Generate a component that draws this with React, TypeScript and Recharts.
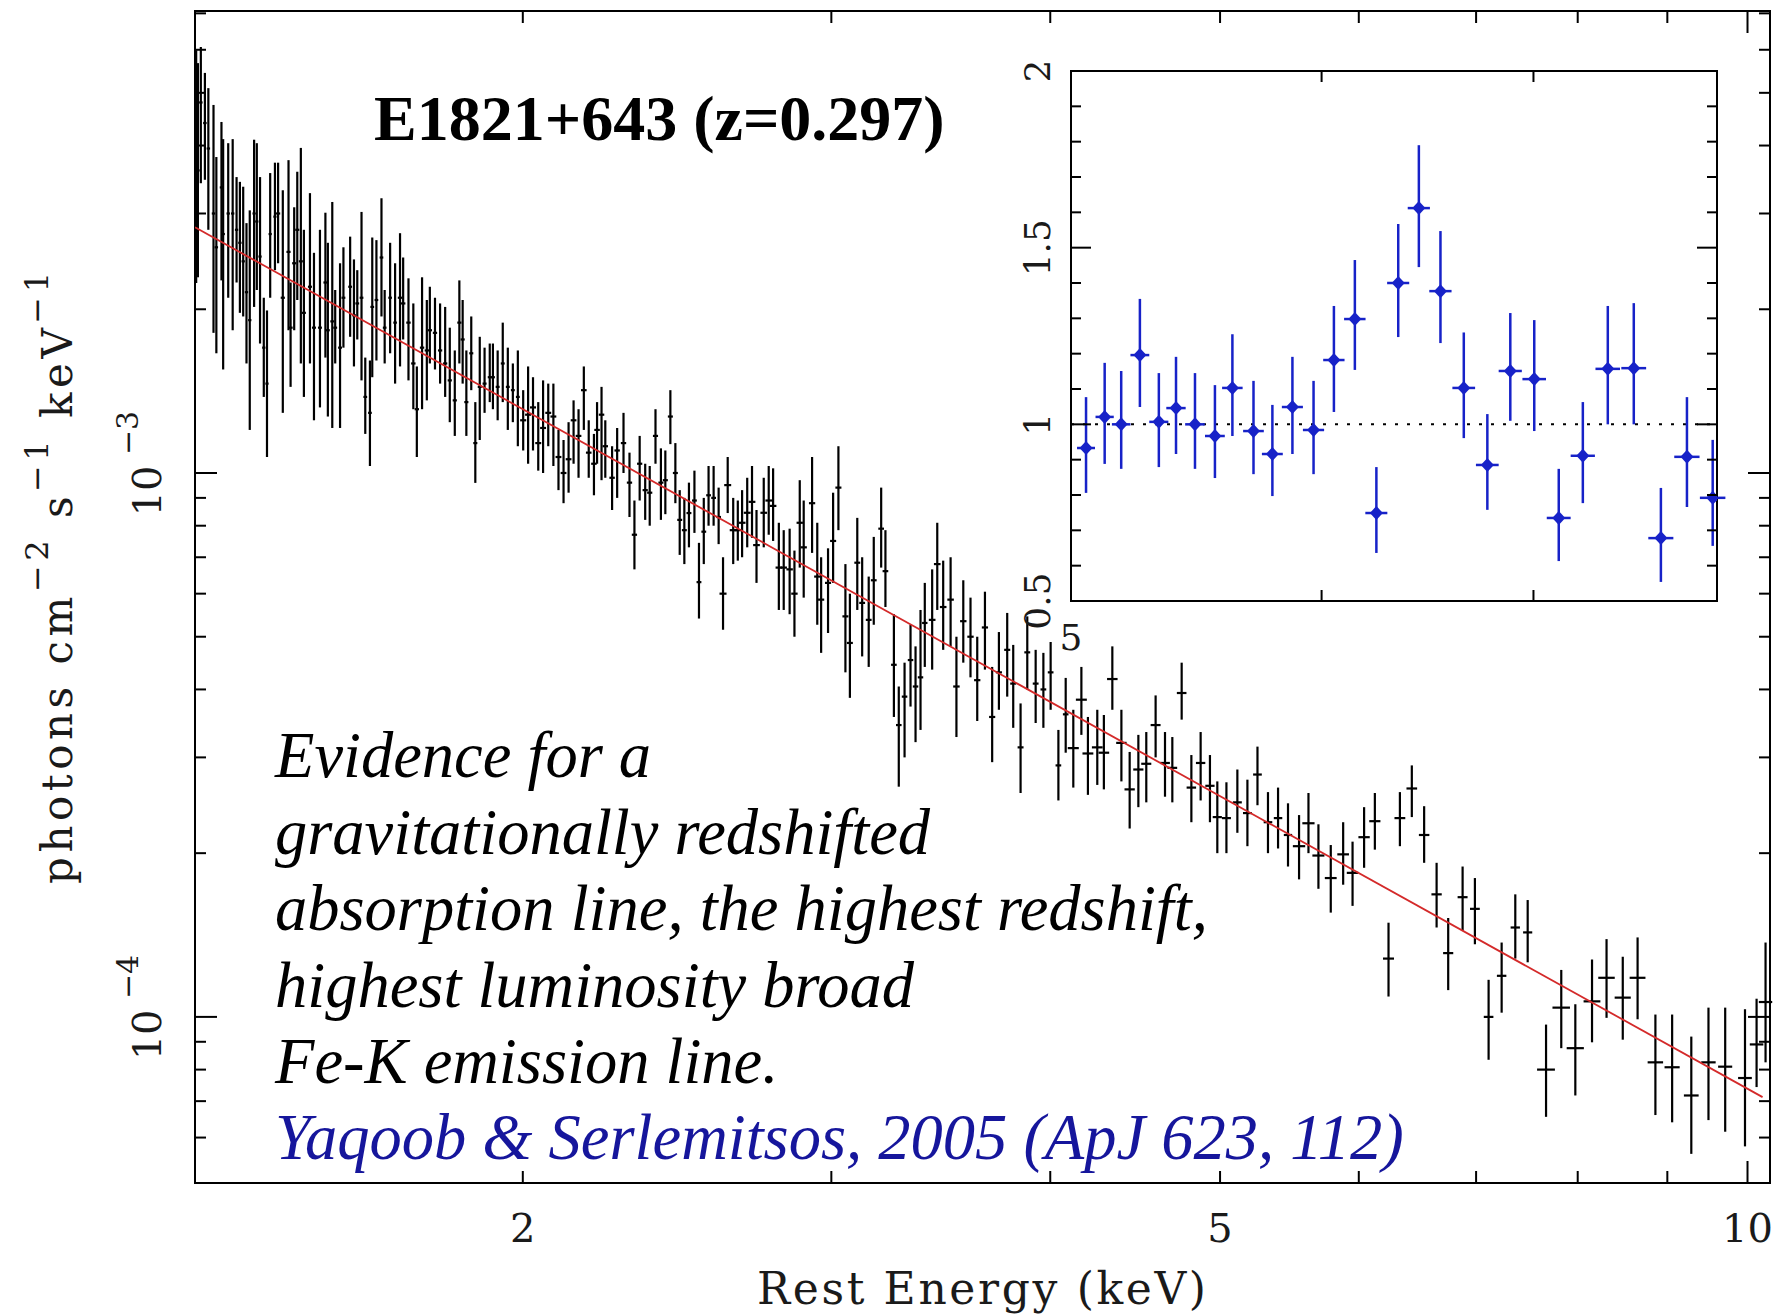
import React from 'react';
import {
  ComposedChart,
  Scatter,
  Line,
  XAxis,
  YAxis,
  ErrorBar,
  ReferenceArea,
  ReferenceLine,
} from 'recharts';

// ---------- DATA ----------
// Main spectrum rows: [rest energy (keV), flux, flux lower bound, flux upper bound]  (photons cm^-2 s^-1 keV^-1)
type Row = [number, number, number, number];

const segA_halfWidth = 0.003;
const segA: Row[] = [
  [1.302, 4.0e-3, 2.235e-3, 5.99e-3], [1.305, 3.6e-3, 2.29e-3, 5.67e-3], [1.31, 4.8e-3, 3.41e-3, 6.07e-3],
  [1.317, 4.4e-3, 3.46e-3, 5.44e-3], [1.323, 3.95e-3, 2.8e-3, 5.1e-3], [1.332, 3.0e-3, 1.81e-3, 4.75e-3],
  [1.337, 2.6e-3, 1.66e-3, 3.81e-3], [1.346, 3.35e-3, 2.26e-3, 4.42e-3], [1.349, 2.75e-3, 1.55e-3, 4.11e-3],
  [1.358, 3.0e-3, 2.1e-3, 4.04e-3], [1.366, 3.0e-3, 1.83e-3, 4.11e-3], [1.373, 2.8e-3, 2.24e-3, 3.5e-3],
  [1.379, 2.65e-3, 1.97e-3, 3.43e-3], [1.385, 2.45e-3, 1.94e-3, 3.36e-3], [1.391, 2.15e-3, 1.59e-3, 2.88e-3],
  [1.397, 1.91e-3, 1.2e-3, 3.04e-3], [1.405, 3.0e-3, 2.02e-3, 4.1e-3], [1.41, 2.9e-3, 2.17e-3, 4.04e-3],
  [1.416, 2.5e-3, 1.73e-3, 3.5e-3], [1.423, 1.7e-3, 1.38e-3, 2.1e-3], [1.429, 1.46e-3, 1.07e-3, 1.99e-3],
  [1.435, 2.75e-3, 2.1e-3, 3.56e-3], [1.444, 2.96e-3, 2.36e-3, 3.72e-3],
];

const segB_halfWidth = 0.004;
const segB: Row[] = [
  [1.45, 3.0e-3, 2.43e-3, 3.72e-3], [1.459, 2.1e-3, 1.29e-3, 3.31e-3], [1.47, 2.55e-3, 1.83e-3, 3.76e-3],
  [1.474, 1.85e-3, 1.44e-3, 2.24e-3], [1.481, 2.43e-3, 1.83e-3, 3.08e-3], [1.487, 2.8e-3, 2.08e-3, 3.58e-3],
  [1.494, 2.45e-3, 1.59e-3, 3.96e-3], [1.5, 1.97e-3, 1.38e-3, 2.8e-3], [1.512, 2.2e-3, 1.59e-3, 3.27e-3],
  [1.52, 1.85e-3, 1.25e-3, 2.54e-3], [1.532, 1.85e-3, 1.32e-3, 2.8e-3], [1.543, 2.24e-3, 1.63e-3, 3.01e-3],
  [1.548, 1.83e-3, 1.27e-3, 2.65e-3], [1.557, 1.9e-3, 1.21e-3, 3.15e-3], [1.563, 1.85e-3, 1.59e-3, 2.17e-3],
  [1.573, 1.7e-3, 1.21e-3, 2.43e-3], [1.58, 2.1e-3, 1.7e-3, 2.6e-3], [1.594, 2.2e-3, 1.78e-3, 2.72e-3],
  [1.602, 1.95e-3, 1.57e-3, 2.47e-3], [1.609, 2.05e-3, 1.76e-3, 2.36e-3], [1.618, 2.1e-3, 1.48e-3, 3.02e-3],
  [1.626, 1.38e-3, 1.18e-3, 1.63e-3], [1.636, 1.29e-3, 1.03e-3, 1.61e-3], [1.641, 2.02e-3, 1.5e-3, 2.71e-3],
  [1.65, 2.08e-3, 1.61e-3, 2.68e-3], [1.661, 2.49e-3, 1.94e-3, 3.2e-3], [1.668, 1.85e-3, 1.59e-3, 2.17e-3],
  [1.68, 2.1e-3, 1.66e-3, 2.65e-3], [1.691, 1.89e-3, 1.46e-3, 2.43e-3],
];

const segC_halfWidth = 0.005;
const segC: Row[] = [
  [1.702, 2.1e-3, 1.57e-3, 2.76e-3], [1.709, 2.05e-3, 1.76e-3, 2.49e-3], [1.721, 1.89e-3, 1.48e-3, 2.28e-3],
  [1.732, 1.59e-3, 1.31e-3, 2.05e-3], [1.74, 1.31e-3, 1.07e-3, 1.57e-3], [1.752, 1.7e-3, 1.31e-3, 2.29e-3],
  [1.763, 1.68e-3, 1.36e-3, 2.08e-3], [1.77, 1.83e-3, 1.59e-3, 2.2e-3], [1.782, 1.81e-3, 1.55e-3, 2.1e-3],
  [1.794, 1.68e-3, 1.46e-3, 2.05e-3], [1.806, 1.59e-3, 1.38e-3, 2.02e-3], [1.817, 1.48e-3, 1.24e-3, 1.85e-3],
  [1.829, 1.36e-3, 1.17e-3, 1.68e-3], [1.84, 1.89e-3, 1.59e-3, 2.26e-3], [1.848, 1.76e-3, 1.46e-3, 2.08e-3],
  [1.857, 1.35e-3, 1.17e-3, 1.68e-3], [1.869, 1.66e-3, 1.42e-3, 1.94e-3], [1.879, 1.135e-3, 0.959e-3, 1.35e-3],
  [1.89, 1.44e-3, 1.15e-3, 1.78e-3], [1.902, 1.46e-3, 1.29e-3, 1.7e-3], [1.915, 1.5e-3, 1.35e-3, 1.73e-3],
  [1.923, 1.5e-3, 1.31e-3, 1.73e-3], [1.935, 1.44e-3, 1.25e-3, 1.68e-3], [1.948, 1.59e-3, 1.35e-3, 1.89e-3],
  [1.961, 1.44e-3, 1.2e-3, 1.7e-3], [1.974, 1.42e-3, 1.24e-3, 1.59e-3], [1.987, 1.38e-3, 1.12e-3, 1.68e-3],
];

const segD_halfWidth = 0.008;
const segD: Row[] = [
  [2.001, 1.25e-3, 1.1e-3, 1.42e-3], [2.014, 1.28e-3, 1.04e-3, 1.57e-3], [2.027, 1.32e-3, 1.1e-3, 1.5e-3],
  [2.041, 1.135e-3, 1.01e-3, 1.35e-3], [2.054, 1.21e-3, 1.0e-3, 1.48e-3], [2.068, 1.29e-3, 1.12e-3, 1.46e-3],
  [2.082, 1.27e-3, 1.03e-3, 1.46e-3], [2.096, 1.07e-3, 0.93e-3, 1.2e-3], [2.11, 1.0e-3, 0.88e-3, 1.15e-3],
  [2.124, 1.06e-3, 0.92e-3, 1.24e-3], [2.138, 1.25e-3, 1.04e-3, 1.36e-3], [2.152, 1.17e-3, 0.98e-3, 1.31e-3],
  [2.167, 1.42e-3, 1.2e-3, 1.57e-3], [2.181, 1.09e-3, 0.98e-3, 1.25e-3], [2.196, 1.04e-3, 0.91e-3, 1.18e-3],
  [2.205, 1.2e-3, 1.04e-3, 1.35e-3], [2.218, 1.28e-3, 0.97e-3, 1.44e-3], [2.229, 1.12e-3, 0.98e-3, 1.25e-3],
  [2.249, 0.98e-3, 0.855e-3, 1.12e-3], [2.264, 1.1e-3, 0.9e-3, 1.21e-3], [2.283, 1.135e-3, 1.0e-3, 1.29e-3],
  [2.301, 0.96e-3, 0.83e-3, 1.09e-3], [2.316, 0.77e-3, 0.665e-3, 0.89e-3], [2.332, 1.04e-3, 0.89e-3, 1.17e-3],
  [2.349, 0.93e-3, 0.82e-3, 1.04e-3], [2.363, 0.92e-3, 0.8e-3, 1.03e-3], [2.381, 1.17e-3, 1.04e-3, 1.31e-3],
  [2.398, 0.96e-3, 0.82e-3, 1.11e-3], [2.412, 0.97e-3, 0.84e-3, 1.1e-3], [2.428, 1.27e-3, 1.13e-3, 1.42e-3],
  [2.444, 1.0e-3, 0.88e-3, 1.135e-3], [2.458, 0.82e-3, 0.707e-3, 0.93e-3], [2.473, 0.785e-3, 0.68e-3, 0.9e-3],
  [2.488, 0.844e-3, 0.73e-3, 0.96e-3], [2.506, 0.89e-3, 0.776e-3, 1.01e-3], [2.521, 0.63e-3, 0.54e-3, 0.744e-3],
  [2.537, 0.78e-3, 0.68e-3, 0.9e-3], [2.553, 0.91e-3, 0.8e-3, 1.03e-3], [2.57, 0.9e-3, 0.8e-3, 1.03e-3],
  [2.587, 0.83e-3, 0.74e-3, 0.94e-3],
];

const segE_halfWidth = 0.012;
const segE: Row[] = [
  [2.602, 0.6e-3, 0.515e-3, 0.7e-3], [2.618, 0.95e-3, 0.844e-3, 1.07e-3], [2.637, 0.785e-3, 0.68e-3, 0.9e-3],
  [2.653, 0.785e-3, 0.69e-3, 0.89e-3], [2.668, 0.81e-3, 0.7e-3, 0.93e-3], [2.686, 0.845e-3, 0.73e-3, 0.98e-3],
  [2.703, 0.885e-3, 0.76e-3, 1.03e-3], [2.719, 0.737e-3, 0.628e-3, 0.855e-3], [2.745, 0.845e-3, 0.73e-3, 0.98e-3],
  [2.763, 0.89e-3, 0.77e-3, 1.03e-3], [2.779, 0.87e-3, 0.75e-3, 1.02e-3], [2.8, 0.67e-3, 0.56e-3, 0.81e-3],
  [2.818, 0.67e-3, 0.56e-3, 0.785e-3], [2.84, 0.665e-3, 0.55e-3, 0.79e-3], [2.858, 0.6e-3, 0.5e-3, 0.72e-3],
  [2.878, 0.81e-3, 0.67e-3, 0.97e-3], [2.893, 0.73e-3, 0.59e-3, 0.89e-3], [2.925, 0.88e-3, 0.713e-3, 1.07e-3],
  [2.945, 0.645e-3, 0.526e-3, 0.81e-3], [2.96, 0.585e-3, 0.467e-3, 0.7e-3], [2.987, 0.628e-3, 0.508e-3, 0.727e-3],
  [3.007, 0.75e-3, 0.628e-3, 0.92e-3], [3.028, 0.94e-3, 0.785e-3, 1.12e-3], [3.056, 0.545e-3, 0.43e-3, 0.68e-3],
  [3.074, 0.487e-3, 0.386e-3, 0.6e-3], [3.104, 0.684e-3, 0.56e-3, 0.827e-3], [3.124, 0.577e-3, 0.46e-3, 0.7e-3],
  [3.151, 0.537e-3, 0.44e-3, 0.645e-3], [3.172, 0.635e-3, 0.526e-3, 0.763e-3], [3.203, 0.79e-3, 0.67e-3, 0.94e-3],
  [3.221, 0.66e-3, 0.567e-3, 0.785e-3], [3.257, 0.444e-3, 0.356e-3, 0.55e-3], [3.278, 0.344e-3, 0.265e-3, 0.405e-3],
  [3.303, 0.388e-3, 0.3e-3, 0.448e-3], [3.329, 0.453e-3, 0.372e-3, 0.526e-3], [3.351, 0.405e-3, 0.32e-3, 0.48e-3],
  [3.373, 0.421e-3, 0.337e-3, 0.56e-3], [3.392, 0.53e-3, 0.44e-3, 0.628e-3],
];

const segF_halfWidth = 0.015;
const segF: Row[] = [
  [3.425, 0.537e-3, 0.435e-3, 0.665e-3], [3.448, 0.68e-3, 0.56e-3, 0.81e-3], [3.475, 0.567e-3, 0.473e-3, 0.69e-3],
  [3.509, 0.585e-3, 0.48e-3, 0.7e-3], [3.536, 0.405e-3, 0.327e-3, 0.5e-3], [3.568, 0.534e-3, 0.448e-3, 0.635e-3],
  [3.602, 0.5e-3, 0.421e-3, 0.59e-3], [3.634, 0.416e-3, 0.35e-3, 0.5e-3], [3.671, 0.52e-3, 0.435e-3, 0.605e-3],
  [3.706, 0.356e-3, 0.294e-3, 0.44e-3], [3.739, 0.43e-3, 0.367e-3, 0.51e-3], [3.78, 0.473e-3, 0.388e-3, 0.553e-3],
  [3.81, 0.41e-3, 0.34e-3, 0.483e-3], [3.847, 0.313e-3, 0.258e-3, 0.377e-3], [3.881, 0.468e-3, 0.4e-3, 0.545e-3],
  [3.924, 0.41e-3, 0.347e-3, 0.473e-3], [3.964, 0.4e-3, 0.34e-3, 0.467e-3], [4.002, 0.43e-3, 0.367e-3, 0.489e-3],
  [4.043, 0.29e-3, 0.25e-3, 0.337e-3], [4.082, 0.36e-3, 0.306e-3, 0.42e-3],
];

const segG_halfWidth = 0.03;
const segG: Row[] = [
  [4.123, 0.312e-3, 0.264e-3, 0.367e-3], [4.167, 0.383e-3, 0.33e-3, 0.44e-3], [4.203, 0.305e-3, 0.256e-3, 0.356e-3],
  [4.255, 0.313e-3, 0.267e-3, 0.367e-3], [4.292, 0.306e-3, 0.262e-3, 0.359e-3], [4.34, 0.418e-3, 0.367e-3, 0.48e-3],
  [4.392, 0.319e-3, 0.271e-3, 0.367e-3], [4.44, 0.262e-3, 0.222e-3, 0.307e-3], [4.491, 0.285e-3, 0.243e-3, 0.33e-3],
  [4.538, 0.292e-3, 0.248e-3, 0.334e-3], [4.594, 0.344e-3, 0.3e-3, 0.39e-3], [4.651, 0.293e-3, 0.254e-3, 0.334e-3],
  [4.696, 0.287e-3, 0.248e-3, 0.327e-3], [4.754, 0.394e-3, 0.352e-3, 0.448e-3], [4.815, 0.264e-3, 0.228e-3, 0.303e-3],
  [4.874, 0.293e-3, 0.25e-3, 0.334e-3], [4.934, 0.266e-3, 0.228e-3, 0.303e-3], [4.982, 0.233e-3, 0.2e-3, 0.271e-3],
  [5.042, 0.232e-3, 0.2e-3, 0.27e-3], [5.115, 0.248e-3, 0.218e-3, 0.285e-3], [5.183, 0.237e-3, 0.206e-3, 0.273e-3],
  [5.252, 0.279e-3, 0.245e-3, 0.314e-3], [5.325, 0.228e-3, 0.2e-3, 0.259e-3], [5.396, 0.232e-3, 0.204e-3, 0.264e-3],
  [5.467, 0.216e-3, 0.189e-3, 0.247e-3],
];

const segH_halfWidth = 0.045;
const segH: Row[] = [
  [5.547, 0.206e-3, 0.179e-3, 0.235e-3], [5.616, 0.227e-3, 0.2e-3, 0.258e-3], [5.69, 0.198e-3, 0.172e-3, 0.226e-3],
  [5.783, 0.18e-3, 0.1555e-3, 0.207e-3], [5.878, 0.199e-3, 0.175e-3, 0.228e-3], [5.951, 0.184e-3, 0.16e-3, 0.21e-3],
  [6.042, 0.214e-3, 0.188e-3, 0.243e-3], [6.128, 0.229e-3, 0.203e-3, 0.258e-3], [6.239, 0.128e-3, 0.109e-3, 0.149e-3],
  [6.333, 0.232e-3, 0.206e-3, 0.259e-3], [6.433, 0.263e-3, 0.233e-3, 0.29e-3], [6.538, 0.216e-3, 0.192e-3, 0.244e-3],
  [6.646, 0.168e-3, 0.146e-3, 0.192e-3], [6.748, 0.131e-3, 0.112e-3, 0.152e-3], [6.877, 0.166e-3, 0.144e-3, 0.189e-3],
  [6.989, 0.158e-3, 0.136e-3, 0.18e-3], [7.116, 0.1e-3, 0.0834e-3, 0.117e-3], [7.239, 0.119e-3, 0.1018e-3, 0.137e-3],
  [7.37, 0.146e-3, 0.128e-3, 0.168e-3], [7.491, 0.143e-3, 0.126e-3, 0.164e-3],
];

const segI_halfWidth = 0.09;
const segI: Row[] = [
  [7.674, 0.08e-3, 0.0655e-3, 0.0968e-3], [7.829, 0.104e-3, 0.0876e-3, 0.122e-3], [7.975, 0.0876e-3, 0.0717e-3, 0.1055e-3],
  [8.152, 0.1068e-3, 0.0898e-3, 0.1275e-3], [8.309, 0.118e-3, 0.0996e-3, 0.139e-3], [8.488, 0.1085e-3, 0.0908e-3, 0.129e-3],
  [8.655, 0.118e-3, 0.099e-3, 0.14e-3], [8.86, 0.0825e-3, 0.066e-3, 0.101e-3], [9.057, 0.0808e-3, 0.064e-3, 0.101e-3],
  [9.288, 0.0717e-3, 0.056e-3, 0.092e-3], [9.5, 0.0825e-3, 0.0646e-3, 0.104e-3], [9.711, 0.081e-3, 0.0615e-3, 0.104e-3],
  [9.967, 0.0772e-3, 0.0578e-3, 0.1033e-3], [10.12, 0.089e-3, 0.0743e-3, 0.108e-3], [10.24, 0.1065e-3, 0.0825e-3, 0.137e-3],
];

// Power-law continuum model (red line), two end points
const modelEnergy = [1.3, 10.2];
const modelFlux = [2.83e-3, 7.12e-5];

// Inset: data/model ratio, rows [energy keV, ratio, lower, upper, bin half-width keV]
const insetRatio: [number, number, number, number, number][] = [
  [5.055, 0.933, 0.806, 1.077, 0.033], [5.124, 1.021, 0.888, 1.174, 0.034], [5.186, 1.0, 0.874, 1.151, 0.035],
  [5.257, 1.196, 1.049, 1.355, 0.036], [5.33, 1.007, 0.879, 1.145, 0.037], [5.397, 1.046, 0.916, 1.191, 0.038],
  [5.472, 1.0, 0.874, 1.145, 0.039], [5.552, 0.967, 0.848, 1.111, 0.04], [5.623, 1.103, 0.967, 1.255, 0.042],
  [5.71, 0.981, 0.859, 1.123, 0.043], [5.789, 0.916, 0.797, 1.055, 0.044], [5.874, 1.049, 0.916, 1.191, 0.045],
  [5.965, 0.984, 0.859, 1.123, 0.046], [6.054, 1.182, 1.035, 1.335, 0.047], [6.147, 1.298, 1.154, 1.465, 0.048],
  [6.244, 0.749, 0.636, 0.879, 0.05], [6.344, 1.4, 1.247, 1.567, 0.051], [6.44, 1.612, 1.445, 1.79, 0.052],
  [6.542, 1.377, 1.23, 1.547, 0.053], [6.654, 1.103, 0.961, 1.26, 0.055], [6.769, 0.885, 0.758, 1.029, 0.056],
  [6.883, 1.151, 1.01, 1.315, 0.058], [7.004, 1.128, 0.981, 1.295, 0.06], [7.13, 0.735, 0.613, 0.874, 0.062],
  [7.256, 0.911, 0.777, 1.063, 0.064], [7.389, 1.157, 1.0, 1.335, 0.066], [7.53, 1.159, 1.0, 1.343, 0.068],
  [7.68, 0.678, 0.554, 0.82, 0.07], [7.827, 0.908, 0.766, 1.077, 0.072], [7.975, 0.792, 0.656, 0.956, 0.074],
];

// Axis ticks and labels
const mainXTicks = [2, 3, 4, 5, 6, 7, 8, 9, 10];
const mainXLabels: Record<number, string> = { 2: '2', 5: '5', 10: '10' };
const mainYTicks = [
  6e-5, 7e-5, 8e-5, 9e-5, 1e-4, 2e-4, 3e-4, 4e-4, 5e-4, 6e-4, 7e-4, 8e-4, 9e-4,
  1e-3, 2e-3, 3e-3, 4e-3, 5e-3, 6e-3, 7e-3,
];
const insetXTicks = [5, 6, 7];
const insetYTicks = [0.5, 0.6, 0.7, 0.8, 0.9, 1.0, 1.1, 1.2, 1.3, 1.4, 1.5, 1.6, 1.7, 1.8, 1.9, 2.0];
const insetYLabels: Record<string, string> = { '0.5': '0.5', '1': '1', '1.5': '1.5', '2': '2' };

const titleText = 'E1821+643 (z=0.297)';
const noteLines = [
  'Evidence for a',
  'gravitationally redshifted',
  'absorption line, the highest redshift,',
  'highest luminosity broad',
  'Fe-K emission line.',
];
const citationText = 'Yaqoob & Serlemitsos, 2005 (ApJ 623, 112)';

// ---------- LAYOUT ----------
const W = 1777;
const H = 1315;
const MAIN = { left: 195, top: 11, right: 1770, bottom: 1183 };
const INSET_BOX = { x: 1000, y: 0, w: 760, h: 700 };
const INSET = { left: 71, top: 71, right: 717, bottom: 601 }; // inside inset chart
const AXIS_FONT = '"DejaVu Serif", serif';
const TEXT_FONT = '"Liberation Serif", "Times New Roman", serif';
const BLUE = '#1722c8';

const buildRows = (seg: Row[], half: number) =>
  seg.map(([e, f, lo, hi]) => ({ e, f, ey: [f - lo, hi - f], ex: half }));

const mainRows = [
  ...buildRows(segA, segA_halfWidth),
  ...buildRows(segB, segB_halfWidth),
  ...buildRows(segC, segC_halfWidth),
  ...buildRows(segD, segD_halfWidth),
  ...buildRows(segE, segE_halfWidth),
  ...buildRows(segF, segF_halfWidth),
  ...buildRows(segG, segG_halfWidth),
  ...buildRows(segH, segH_halfWidth),
  ...buildRows(segI, segI_halfWidth),
];
const modelRows = modelEnergy.map((e, i) => ({ e, f: modelFlux[i] }));
const insetRows = insetRatio.map(([e, r, lo, hi, half]) => ({ e, r, ey: [r - lo, hi - r], ex: half }));

const isPow10 = (v: number) => Math.abs(Math.log10(v) - Math.round(Math.log10(v))) < 1e-9;

function MainXTick(props: any) {
  const { x, y, payload } = props;
  const v = payload.value as number;
  const len = v === 10 ? 22 : 12;
  const label = mainXLabels[v];
  return (
    <g>
      <line x1={x} x2={x} y1={y} y2={y - len} stroke="#000" strokeWidth={2} />
      <line x1={x} x2={x} y1={MAIN.top} y2={MAIN.top + len} stroke="#000" strokeWidth={2} />
      {label ? (
        <text x={x} y={y + 59} textAnchor="middle" fontFamily={AXIS_FONT} fontSize={40} fill="#1a1a1a">
          {label}
        </text>
      ) : null}
    </g>
  );
}

function MainYTick(props: any) {
  const { x, y, payload } = props;
  const v = payload.value as number;
  const major = isPow10(v);
  const len = major ? 22 : 11;
  const exp = Math.round(Math.log10(v));
  return (
    <g>
      <line x1={x} x2={x + len} y1={y} y2={y} stroke="#000" strokeWidth={2} />
      <line x1={MAIN.right} x2={MAIN.right - len} y1={y} y2={y} stroke="#000" strokeWidth={2} />
      {major ? (
        <g fontFamily={AXIS_FONT} fill="#1a1a1a">
          <text
            x={x - 34}
            y={y + 18}
            transform={`rotate(-90 ${x - 34} ${y + 18})`}
            textAnchor="middle"
            fontSize={40}
          >
            10
          </text>
          <text
            x={x - 57}
            y={y - 40}
            transform={`rotate(-90 ${x - 57} ${y - 40})`}
            textAnchor="middle"
            fontSize={30}
          >
            {'\u2212' + String(Math.abs(exp))}
          </text>
        </g>
      ) : null}
    </g>
  );
}

function InsetXTick(props: any) {
  const { x, y, payload } = props;
  const v = payload.value as number;
  if (v === 5) {
    return (
      <text x={x} y={y + 49} textAnchor="middle" fontFamily={AXIS_FONT} fontSize={36} fill="#1a1a1a">
        5
      </text>
    );
  }
  return (
    <g>
      <line x1={x} x2={x} y1={y} y2={y - 11} stroke="#000" strokeWidth={2} />
      <line x1={x} x2={x} y1={INSET.top} y2={INSET.top + 11} stroke="#000" strokeWidth={2} />
    </g>
  );
}

function InsetYTick(props: any) {
  const { x, y, payload } = props;
  const v = payload.value as number;
  const major = Math.abs(v * 2 - Math.round(v * 2)) < 1e-6;
  const len = major ? 20 : 10;
  const label = insetYLabels[String(v)];
  return (
    <g>
      <line x1={x} x2={x + len} y1={y} y2={y} stroke="#000" strokeWidth={2} />
      <line x1={INSET.right} x2={INSET.right - len} y1={y} y2={y} stroke="#000" strokeWidth={2} />
      {label ? (
        <text
          x={x - 21}
          y={y}
          transform={`rotate(-90 ${x - 21} ${y})`}
          textAnchor="middle"
          fontFamily={AXIS_FONT}
          fontSize={36}
          fill="#1a1a1a"
        >
          {label}
        </text>
      ) : null}
    </g>
  );
}

const NoMarker = () => <g />;
const Diamond = (p: any) => (
  <path
    d={`M${p.cx},${p.cy - 7} L${p.cx + 6.5},${p.cy} L${p.cx},${p.cy + 7} L${p.cx - 6.5},${p.cy} Z`}
    fill={BLUE}
  />
);

export default function App() {
  return (
    <div style={{ position: 'absolute', left: 0, top: 0, width: W, height: H, background: '#fff' }}>
      <div style={{ position: 'absolute', left: 0, top: 0 }}>
        <ComposedChart
          width={W}
          height={H}
          margin={{ top: MAIN.top, right: W - MAIN.right, bottom: H - MAIN.bottom - 60, left: MAIN.left - 120 }}
        >
          <XAxis
            dataKey="e"
            type="number"
            scale="log"
            domain={[1.3, 10.3]}
            allowDataOverflow
            ticks={mainXTicks}
            interval={0}
            tick={<MainXTick />}
            tickLine={false}
            tickSize={0}
            tickMargin={0}
            axisLine={false}
            height={60}
          />
          <YAxis
            dataKey="f"
            type="number"
            scale="log"
            domain={[4.95e-5, 7.07e-3]}
            allowDataOverflow
            ticks={mainYTicks}
            interval={0}
            tick={<MainYTick />}
            tickLine={false}
            tickSize={0}
            tickMargin={0}
            axisLine={false}
            width={120}
          />
          <ReferenceArea
            x1={1.3}
            x2={10.3}
            y1={4.95e-5}
            y2={7.07e-3}
            fill="none"
            stroke="#000"
            strokeWidth={2}
          />
          <Scatter data={mainRows} shape={NoMarker} isAnimationActive={false}>
            <ErrorBar dataKey="ey" direction="y" width={0} stroke="#000" strokeWidth={2.2} isAnimationActive={false} />
            <ErrorBar dataKey="ex" direction="x" width={0} stroke="#000" strokeWidth={2.2} isAnimationActive={false} />
          </Scatter>
          <Line
            data={modelRows}
            dataKey="f"
            stroke="#d42a2a"
            strokeWidth={1.8}
            dot={false}
            activeDot={false}
            isAnimationActive={false}
          />
        </ComposedChart>
      </div>

      <div style={{ position: 'absolute', left: INSET_BOX.x, top: INSET_BOX.y }}>
        <ComposedChart
          width={INSET_BOX.w}
          height={INSET_BOX.h}
          margin={{
            top: INSET.top,
            right: INSET_BOX.w - INSET.right,
            bottom: INSET_BOX.h - INSET.bottom - 40,
            left: INSET.left - 60,
          }}
        >
          <XAxis
            dataKey="e"
            type="number"
            scale="log"
            domain={[5, 8]}
            allowDataOverflow
            ticks={insetXTicks}
            interval={0}
            tick={<InsetXTick />}
            tickLine={false}
            tickSize={0}
            tickMargin={0}
            axisLine={false}
            height={40}
          />
          <YAxis
            dataKey="r"
            type="number"
            domain={[0.5, 2]}
            allowDataOverflow
            ticks={insetYTicks}
            interval={0}
            tick={<InsetYTick />}
            tickLine={false}
            tickSize={0}
            tickMargin={0}
            axisLine={false}
            width={60}
          />
          <ReferenceArea x1={5} x2={8} y1={0.5} y2={2} fill="#fff" fillOpacity={1} stroke="#000" strokeWidth={2} />
          <ReferenceLine y={1} stroke="#000" strokeWidth={2} strokeDasharray="3 9" />
          <Scatter data={insetRows} shape={Diamond} isAnimationActive={false}>
            <ErrorBar dataKey="ey" direction="y" width={0} stroke={BLUE} strokeWidth={2.5} isAnimationActive={false} />
            <ErrorBar dataKey="ex" direction="x" width={0} stroke={BLUE} strokeWidth={2.5} isAnimationActive={false} />
          </Scatter>
        </ComposedChart>
      </div>

      <svg
        width={W}
        height={H}
        style={{ position: 'absolute', left: 0, top: 0, pointerEvents: 'none' }}
      >
        <text x={374} y={140} fontFamily={TEXT_FONT} fontWeight="bold" fontSize={64} fill="#000">
          {titleText}
        </text>
        {noteLines.map((line, i) => (
          <text
            key={i}
            x={275}
            y={777 + i * 76.5}
            fontFamily={TEXT_FONT}
            fontStyle="italic"
            fontSize={64.5}
            fill="#000"
          >
            {line}
          </text>
        ))}
        <text x={275} y={1159} fontFamily={TEXT_FONT} fontStyle="italic" fontSize={64.5} fill="#16169c">
          {citationText}
        </text>
        <text
          x={757}
          y={1304}
          fontFamily={AXIS_FONT}
          fontSize={44}
          fill="#1a1a1a"
          textLength={449}
          lengthAdjust="spacing"
        >
          Rest Energy (keV)
        </text>
        <text
          x={72}
          y={884}
          transform="rotate(-90 72 884)"
          fontFamily={AXIS_FONT}
          fontSize={42}
          fill="#1a1a1a"
          textLength={612}
          lengthAdjust="spacing"
        >
          photons cm
          <tspan dy={-24} fontSize={32}>{'\u22122'}</tspan>
          <tspan dy={24}> s</tspan>
          <tspan dy={-24} fontSize={32}>{'\u22121'}</tspan>
          <tspan dy={24}> keV</tspan>
          <tspan dy={-24} fontSize={32}>{'\u22121'}</tspan>
        </text>
      </svg>
    </div>
  );
}
